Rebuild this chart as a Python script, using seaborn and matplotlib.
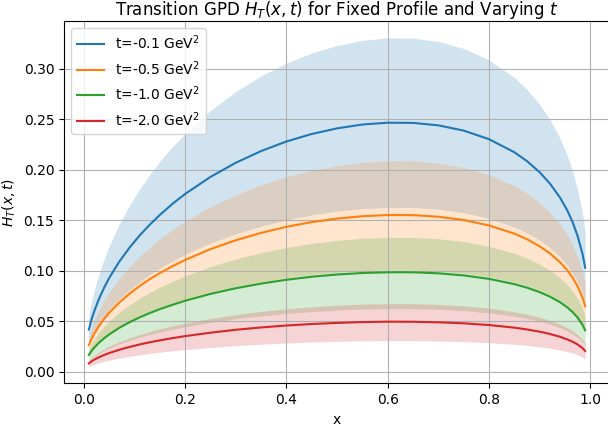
import numpy as np
import pandas as pd
import matplotlib
matplotlib.use("Agg")
import matplotlib.pyplot as plt
import seaborn as sns

# momentum fraction grid
x = [0.01, 0.015, 0.02, 0.03, 0.04, 0.05, 0.07, 0.09, 0.11, 0.13, 0.15, 0.175,
     0.20, 0.25, 0.30, 0.35, 0.40, 0.45, 0.50, 0.55, 0.60, 0.65, 0.70, 0.75,
     0.80, 0.85, 0.875, 0.90, 0.92, 0.94, 0.955, 0.965, 0.975, 0.985, 0.99]

t_labels = ["t=-0.1 GeV$^2$", "t=-0.5 GeV$^2$", "t=-1.0 GeV$^2$", "t=-2.0 GeV$^2$"]

# central values of H_T(x, t)
h_t01 = [0.0420, 0.0514, 0.0593, 0.0724, 0.0833, 0.0929, 0.1092, 0.1229, 0.1350, 0.1457, 0.1554, 0.1664,
         0.1762, 0.1931, 0.2071, 0.2187, 0.2282, 0.2356, 0.2412, 0.2450, 0.2468, 0.2466, 0.2442, 0.2390,
         0.2305, 0.2176, 0.2088, 0.1978, 0.1868, 0.1729, 0.1596, 0.1486, 0.1347, 0.1163, 0.1033]
h_t05 = [0.0265, 0.0324, 0.0373, 0.0456, 0.0525, 0.0585, 0.0687, 0.0774, 0.0850, 0.0918, 0.0979, 0.1047,
         0.1109, 0.1216, 0.1304, 0.1377, 0.1437, 0.1484, 0.1519, 0.1542, 0.1554, 0.1553, 0.1537, 0.1505,
         0.1451, 0.1370, 0.1315, 0.1245, 0.1176, 0.1089, 0.1005, 0.0935, 0.0848, 0.0732, 0.0650]
h_t10 = [0.0168, 0.0206, 0.0237, 0.0290, 0.0333, 0.0371, 0.0437, 0.0492, 0.0540, 0.0583, 0.0622, 0.0665,
         0.0705, 0.0773, 0.0829, 0.0875, 0.0913, 0.0943, 0.0965, 0.0980, 0.0987, 0.0987, 0.0977, 0.0956,
         0.0922, 0.0870, 0.0835, 0.0791, 0.0747, 0.0692, 0.0638, 0.0594, 0.0539, 0.0465, 0.0413]
h_t20 = [0.0085, 0.0104, 0.0120, 0.0146, 0.0168, 0.0187, 0.0220, 0.0248, 0.0272, 0.0294, 0.0313, 0.0335,
         0.0355, 0.0389, 0.0418, 0.0441, 0.0460, 0.0475, 0.0486, 0.0494, 0.0498, 0.0497, 0.0492, 0.0482,
         0.0465, 0.0439, 0.0421, 0.0399, 0.0377, 0.0349, 0.0322, 0.0300, 0.0272, 0.0235, 0.0208]

# upper edges of the uncertainty bands
up_t01 = [0.0563, 0.0689, 0.0794, 0.0970, 0.1117, 0.1244, 0.1463, 0.1647, 0.1809, 0.1953, 0.2083, 0.2229,
          0.2361, 0.2588, 0.2776, 0.2931, 0.3058, 0.3158, 0.3233, 0.3283, 0.3308, 0.3305, 0.3272, 0.3203,
          0.3089, 0.2916, 0.2798, 0.2650, 0.2503, 0.2317, 0.2139, 0.1991, 0.1805, 0.1559, 0.1384]
up_t05 = [0.0356, 0.0436, 0.0502, 0.0613, 0.0706, 0.0786, 0.0925, 0.1041, 0.1143, 0.1234, 0.1317, 0.1409,
          0.1492, 0.1636, 0.1754, 0.1853, 0.1933, 0.1996, 0.2043, 0.2075, 0.2091, 0.2089, 0.2068, 0.2024,
          0.1953, 0.1843, 0.1769, 0.1675, 0.1582, 0.1464, 0.1352, 0.1258, 0.1141, 0.0985, 0.0875]
up_t10 = [0.0227, 0.0278, 0.0320, 0.0391, 0.0450, 0.0502, 0.0590, 0.0664, 0.0729, 0.0787, 0.0840, 0.0898,
          0.0952, 0.1043, 0.1119, 0.1181, 0.1232, 0.1273, 0.1303, 0.1323, 0.1333, 0.1332, 0.1319, 0.1291,
          0.1245, 0.1175, 0.1128, 0.1068, 0.1009, 0.0934, 0.0862, 0.0802, 0.0727, 0.0628, 0.0558]
up_t20 = [0.0115, 0.0141, 0.0163, 0.0198, 0.0228, 0.0255, 0.0299, 0.0337, 0.0370, 0.0399, 0.0426, 0.0456,
          0.0483, 0.0529, 0.0568, 0.0600, 0.0625, 0.0646, 0.0661, 0.0672, 0.0677, 0.0676, 0.0669, 0.0655,
          0.0632, 0.0596, 0.0572, 0.0542, 0.0512, 0.0474, 0.0437, 0.0407, 0.0369, 0.0319, 0.0283]

# lower edges of the uncertainty bands
lo_t01 = [0.0277, 0.0339, 0.0391, 0.0478, 0.0550, 0.0613, 0.0720, 0.0811, 0.0891, 0.0962, 0.1026, 0.1098,
          0.1163, 0.1275, 0.1367, 0.1443, 0.1506, 0.1555, 0.1592, 0.1617, 0.1629, 0.1628, 0.1611, 0.1577,
          0.1521, 0.1436, 0.1378, 0.1305, 0.1233, 0.1141, 0.1053, 0.0980, 0.0889, 0.0768, 0.0681]
lo_t05 = [0.0172, 0.0211, 0.0243, 0.0296, 0.0341, 0.0380, 0.0447, 0.0503, 0.0553, 0.0597, 0.0636, 0.0681,
          0.0721, 0.0791, 0.0848, 0.0895, 0.0934, 0.0965, 0.0987, 0.1003, 0.1010, 0.1010, 0.0999, 0.0978,
          0.0944, 0.0891, 0.0855, 0.0810, 0.0765, 0.0708, 0.0653, 0.0608, 0.0551, 0.0476, 0.0423]
lo_t10 = [0.0107, 0.0131, 0.0151, 0.0184, 0.0212, 0.0236, 0.0277, 0.0312, 0.0343, 0.0370, 0.0395, 0.0422,
          0.0447, 0.0490, 0.0526, 0.0555, 0.0579, 0.0598, 0.0612, 0.0622, 0.0627, 0.0626, 0.0620, 0.0607,
          0.0585, 0.0552, 0.0530, 0.0502, 0.0474, 0.0439, 0.0405, 0.0377, 0.0342, 0.0295, 0.0262]
lo_t20 = [0.0053, 0.0065, 0.0075, 0.0091, 0.0105, 0.0117, 0.0137, 0.0155, 0.0170, 0.0184, 0.0196, 0.0210,
          0.0222, 0.0243, 0.0261, 0.0275, 0.0287, 0.0297, 0.0304, 0.0309, 0.0311, 0.0311, 0.0307, 0.0301,
          0.0290, 0.0274, 0.0263, 0.0249, 0.0235, 0.0218, 0.0201, 0.0187, 0.0170, 0.0147, 0.0130]

centers = [h_t01, h_t05, h_t10, h_t20]
uppers = [up_t01, up_t05, up_t10, up_t20]
lowers = [lo_t01, lo_t05, lo_t10, lo_t20]

plt.rcParams["font.family"] = ["DejaVu Sans"]
colors = sns.color_palette("tab10", 4)

fig = plt.figure(figsize=(6.08, 4.30), dpi=100)
ax = fig.add_axes([0.1053, 0.1086, 0.898, 0.8426])

for lab, c, lo, hi, col in zip(t_labels, centers, lowers, uppers, colors):
    df = pd.DataFrame({"x": x, "H": c})
    sns.lineplot(data=df, x="x", y="H", color=col, label=lab, linewidth=1.5, ax=ax)
    ax.fill_between(x, lo, hi, color=col, alpha=0.2, linewidth=0)

ax.set_xlim(-0.039, 1.039)
ax.set_ylim(-0.0112, 0.3475)
ax.set_xticks([0.0, 0.2, 0.4, 0.6, 0.8, 1.0])
ax.set_yticks([0.00, 0.05, 0.10, 0.15, 0.20, 0.25, 0.30])
ax.grid(True, color="#b0b0b0", linewidth=0.8)
ax.set_xlabel("x", fontsize=10)
ax.set_ylabel("$H_T(x,t)$", fontsize=10)
ax.set_title("Transition GPD $H_T(x,t)$ for Fixed Profile and Varying $t$", fontsize=12, pad=3)
ax.tick_params(labelsize=10)
ax.legend(loc="upper left", fontsize=10)

fig.savefig("out.png", dpi=100)
